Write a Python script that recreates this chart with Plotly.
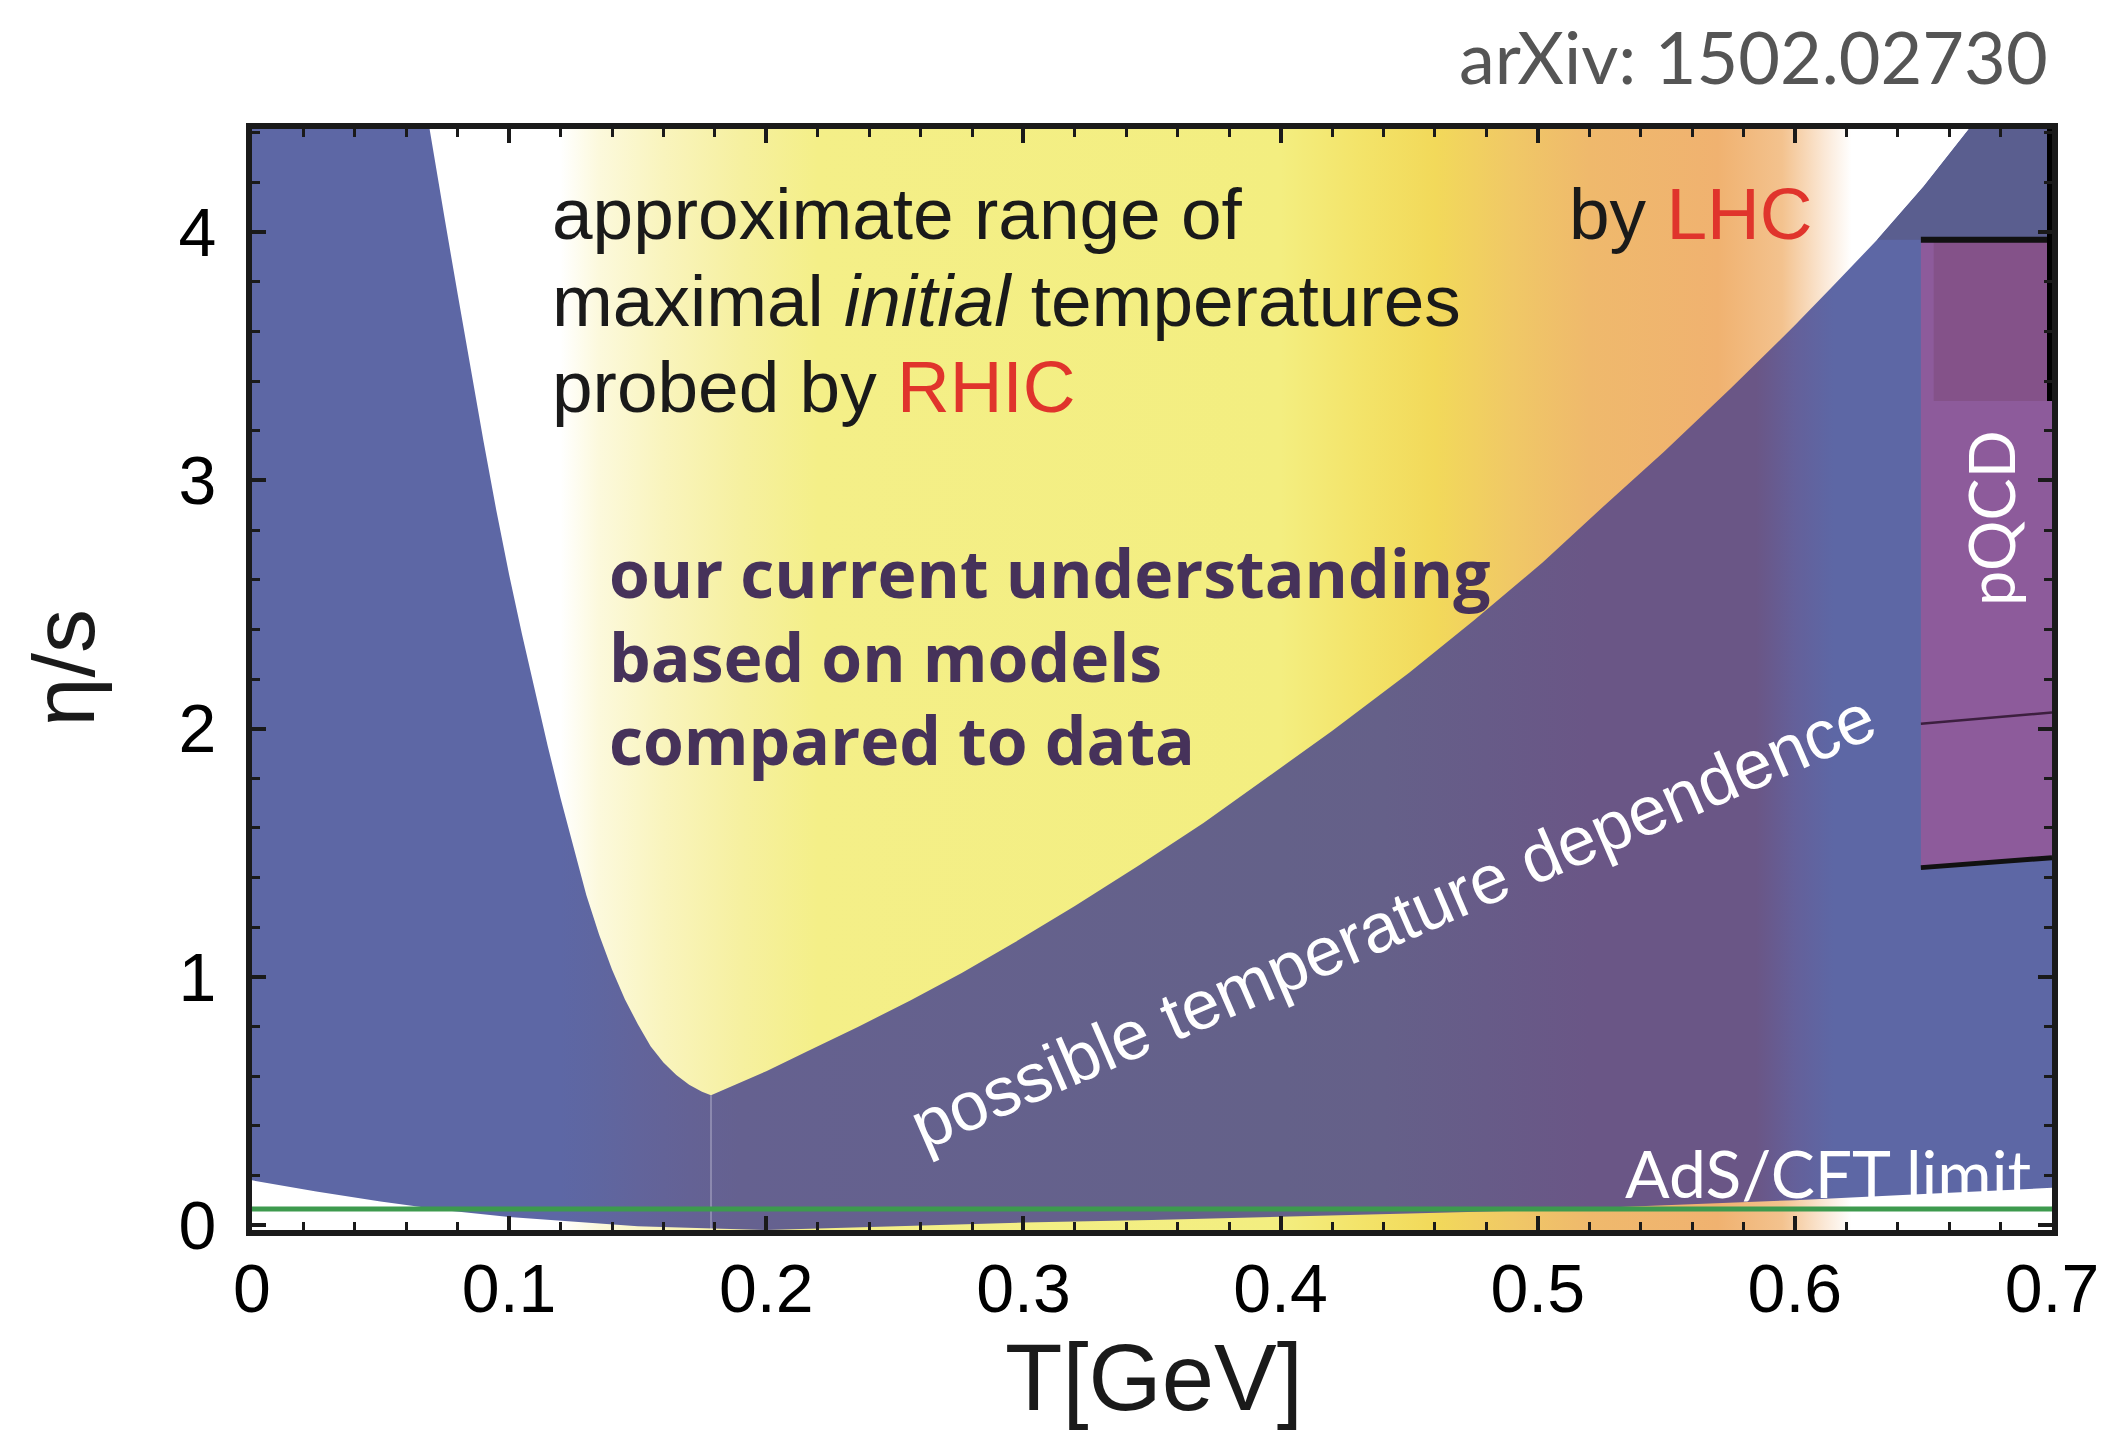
import plotly.graph_objects as go

# ---------------- data ----------------
# V-shaped boundary (upper edge of the blue band), left and right branches
T_v_left = [0.069, 0.075, 0.080, 0.085, 0.090, 0.095, 0.100, 0.105, 0.110, 0.115, 0.120,
            0.125, 0.130, 0.135, 0.140, 0.145, 0.150, 0.155, 0.160, 0.165, 0.170, 0.175, 0.1785]
eta_v_left = [4.42, 4.05, 3.75, 3.45, 3.16, 2.88, 2.62, 2.38, 2.15, 1.93, 1.72,
              1.52, 1.33, 1.17, 1.03, 0.91, 0.81, 0.72, 0.655, 0.605, 0.565, 0.537, 0.523]
T_v_right = [0.1785, 0.200, 0.216, 0.236, 0.256, 0.276, 0.296, 0.320, 0.345, 0.370, 0.393,
             0.420, 0.450, 0.475, 0.502, 0.525, 0.549, 0.575, 0.600, 0.615, 0.632, 0.650, 0.668]
eta_v_right = [0.523, 0.62, 0.70, 0.80, 0.905, 1.015, 1.135, 1.285, 1.45, 1.62, 1.79,
               1.99, 2.225, 2.435, 2.67, 2.89, 3.115, 3.37, 3.625, 3.785, 3.97, 4.183, 4.42]

# lower edge of the blue band
T_low = [0.0, 0.025, 0.05, 0.075, 0.10, 0.125, 0.15, 0.20, 0.25, 0.30, 0.35, 0.40,
         0.45, 0.50, 0.55, 0.60, 0.65, 0.70]
eta_low = [0.18, 0.135, 0.095, 0.06, 0.032, 0.012, -0.005, -0.02, -0.005, 0.01, 0.02,
           0.032, 0.046, 0.06, 0.08, 0.10, 0.125, 0.15]

# AdS/CFT limit
ads_cft = 0.065

# pQCD band
T_pqcd = [0.649, 0.70]
eta_pqcd_low = [1.44, 1.48]
eta_pqcd_mid = [2.02, 2.065]
eta_pqcd_top = [3.97, 3.97]
T_pqcd_dark = [0.654, 0.70]
eta_pqcd_dark = [3.32, 3.97]

# temperature-range gradient (T position, colour)
T_range_stops = [0.0, 0.120, 0.135, 0.160, 0.190, 0.220, 0.400, 0.430, 0.460, 0.490,
                 0.520, 0.570, 0.595, 0.612, 0.622, 0.70]
range_colors = ['#ffffff', '#ffffff', '#fcf9dc', '#f9f4bd', '#f6f0a0', '#f4ef88',
                '#f3ee80', '#f3e46a', '#f2d95a', '#f0c866', '#efb96c', '#f0b270',
                '#f3c28e', '#fbe9d8', '#ffffff', '#ffffff']

# colour of the blue band along T
T_band_stops = [0.0, 0.120, 0.135, 0.150, 0.170, 0.190, 0.400, 0.440, 0.480, 0.520,
                0.585, 0.600, 0.615, 0.70]
band_colors = ['#5d67a5', '#5d67a5', '#5f66a0', '#62649b', '#646295', '#656190',
               '#646189', '#656089', '#675b88', '#6a5686', '#6a5686', '#64609a',
               '#5d67a5', '#5d67a5']

x_ticks = [0, 0.1, 0.2, 0.3, 0.4, 0.5, 0.6, 0.7]
x_tick_text = ['0', '0.1', '0.2', '0.3', '0.4', '0.5', '0.6', '0.7']
y_ticks = [0, 1, 2, 3, 4]
y_tick_text = ['0', '1', '2', '3', '4']

X_RANGE = [0.0, 0.7]
Y_RANGE = [-0.02, 4.416]
Y_TOP = 4.42
Y_BOT = -0.05

# ---------------- figure ----------------
fig = go.Figure()
tmin, tmax = X_RANGE

def scale(stops, colors):
    return [[(t - tmin) / (tmax - tmin), c] for t, c in zip(stops, colors)]

# gradient background band
fig.add_trace(go.Scatter(
    x=[tmin, tmax, tmax, tmin, tmin], y=[Y_BOT, Y_BOT, Y_TOP, Y_TOP, Y_BOT],
    mode='lines', line=dict(width=0), fill='toself',
    fillgradient=dict(type='horizontal', colorscale=scale(T_range_stops, range_colors),
                      start=tmin, stop=tmax),
    hoverinfo='skip', showlegend=False))

# blue band: lower edge, right frame, V right branch (down), V left branch (up), left frame
poly_x = list(T_low) + [tmax, tmax] + T_v_right[::-1] + T_v_left[::-1] + [tmin, tmin]
poly_y = list(eta_low) + [eta_low[-1], Y_TOP] + eta_v_right[::-1] + eta_v_left[::-1] + [Y_TOP, eta_low[0]]
fig.add_trace(go.Scatter(
    x=poly_x, y=poly_y, mode='lines', line=dict(width=0), fill='toself',
    fillgradient=dict(type='horizontal', colorscale=scale(T_band_stops, band_colors),
                      start=tmin, stop=tmax),
    hoverinfo='skip', showlegend=False))

# darker top-right piece above the pQCD band
tr_x = [t for t, e in zip(T_v_right, eta_v_right) if e >= eta_pqcd_top[0]]
tr_y = [e for e in eta_v_right if e >= eta_pqcd_top[0]]
fig.add_trace(go.Scatter(
    x=tr_x + [tmax, tmax, tr_x[0]], y=tr_y + [Y_TOP, eta_pqcd_top[0], tr_y[0]],
    mode='lines', line=dict(width=0), fill='toself', fillcolor='#5a5e8f',
    hoverinfo='skip', showlegend=False))

# faint vertical line below the minimum
fig.add_trace(go.Scatter(
    x=[T_v_right[0], T_v_right[0]], y=[Y_BOT, eta_v_right[0]], mode='lines',
    line=dict(color='rgba(255,255,255,0.35)', width=1.5), hoverinfo='skip', showlegend=False))

# pQCD band
fig.add_trace(go.Scatter(
    x=[T_pqcd[0], T_pqcd[1], T_pqcd[1], T_pqcd[0], T_pqcd[0]],
    y=[eta_pqcd_low[0], eta_pqcd_low[1], eta_pqcd_top[1], eta_pqcd_top[0], eta_pqcd_low[0]],
    mode='lines', line=dict(width=0), fill='toself', fillcolor='#8d5b9b',
    hoverinfo='skip', showlegend=False))
fig.add_trace(go.Scatter(
    x=[T_pqcd_dark[0], T_pqcd_dark[1], T_pqcd_dark[1], T_pqcd_dark[0], T_pqcd_dark[0]],
    y=[eta_pqcd_dark[0], eta_pqcd_dark[0], eta_pqcd_dark[1], eta_pqcd_dark[1], eta_pqcd_dark[0]],
    mode='lines', line=dict(width=0), fill='toself', fillcolor='#845289',
    hoverinfo='skip', showlegend=False))
fig.add_trace(go.Scatter(x=T_pqcd, y=eta_pqcd_mid, mode='lines',
                         line=dict(color='#3c1f3f', width=2.5), hoverinfo='skip', showlegend=False))
fig.add_trace(go.Scatter(x=T_pqcd, y=eta_pqcd_low, mode='lines',
                         line=dict(color='#111111', width=5), hoverinfo='skip', showlegend=False))
fig.add_trace(go.Scatter(x=T_pqcd, y=eta_pqcd_top, mode='lines',
                         line=dict(color='#111111', width=6), hoverinfo='skip', showlegend=False))
fig.add_trace(go.Scatter(x=[tmax, tmax], y=[eta_pqcd_dark[0], Y_TOP], mode='lines',
                         line=dict(color='#000000', width=10), hoverinfo='skip', showlegend=False))

# AdS/CFT limit line
fig.add_trace(go.Scatter(x=[tmin, tmax], y=[ads_cft, ads_cft], mode='lines',
                         line=dict(color='#3d9a4e', width=5), hoverinfo='skip', showlegend=False))

# ---------------- text ----------------
BLACK = '#1a1a1a'
RED = '#e0342c'
sans = 'Liberation Sans'
ann = []
ann.append(dict(x=0.116, y=4.076, xref='x', yref='y', xanchor='left', yanchor='middle',
                text='approximate range of', showarrow=False,
                font=dict(family=sans, size=73, color=BLACK)))
ann.append(dict(x=0.116, y=3.727, xref='x', yref='y', xanchor='left', yanchor='middle',
                text='maximal <i>initial</i> temperatures', showarrow=False,
                font=dict(family=sans, size=73, color=BLACK)))
ann.append(dict(x=0.116, y=3.378, xref='x', yref='y', xanchor='left', yanchor='middle',
                text=f'probed by <span style="color:{RED}">RHIC</span>', showarrow=False,
                font=dict(family=sans, size=73, color=BLACK)))
ann.append(dict(x=0.5115, y=4.076, xref='x', yref='y', xanchor='left', yanchor='middle',
                text=f'by <span style="color:{RED}">LHC</span>', showarrow=False,
                font=dict(family=sans, size=73, color=BLACK)))
for txt, yy in [('our current understanding', 2.632), ('based on models', 2.292),
                ('compared to data', 1.957)]:
    ann.append(dict(x=0.138, y=yy, xref='x', yref='y', xanchor='left', yanchor='middle',
                    text=txt, showarrow=False,
                    font=dict(family='Open Sans', size=66, color='#46325a', weight=700)))
ann.append(dict(x=0.4435, y=1.225, xref='x', yref='y', xanchor='center', yanchor='middle',
                text='possible temperature dependence', showarrow=False, textangle=-23.5,
                font=dict(family=sans, size=69, color='white')))
ann.append(dict(x=0.613, y=0.21, xref='x', yref='y', xanchor='center', yanchor='middle',
                text='AdS/CFT limit', showarrow=False,
                font=dict(family='Lato', size=66, color='white')))
ann.append(dict(x=0.676, y=2.85, xref='x', yref='y', xanchor='center', yanchor='middle',
                text='pQCD', showarrow=False, textangle=-90,
                font=dict(family='Lato', size=63, color='white')))
ann.append(dict(x=0.9989, y=1.066, xref='paper', yref='paper', xanchor='right', yanchor='middle',
                text='arXiv: 1502.02730', showarrow=False,
                font=dict(family='Lato', size=72, color='#555555')))
ann.append(dict(x=0.501, y=-0.134, xref='paper', yref='paper', xanchor='center', yanchor='middle',
                text='T[GeV]', showarrow=False,
                font=dict(family=sans, size=94, color=BLACK)))
ann.append(dict(x=-0.105, y=0.51, xref='paper', yref='paper', xanchor='center', yanchor='middle',
                text='η/s', showarrow=False, textangle=-90,
                font=dict(family=sans, size=88, color=BLACK)))

axis_common = dict(showline=True, linewidth=6, linecolor=BLACK, mirror='allticks',
                   ticks='inside', ticklen=14, tickwidth=3.5, tickcolor=BLACK,
                   showgrid=False, zeroline=False, automargin=False,
                   tickfont=dict(family=sans, size=68, color='black'))

# the page adds an 8 px body margin; margins below compensate for it
fig.update_layout(
    width=2106, height=1432,
    margin=dict(l=244, r=62, t=121, b=210),
    paper_bgcolor='white', plot_bgcolor='white',
    showlegend=False,
    annotations=ann,
    xaxis=dict(range=X_RANGE, tickvals=x_ticks, ticktext=x_tick_text,
               ticklabelstandoff=-6,
               minor=dict(dtick=0.02, ticks='inside', ticklen=8, tickwidth=3, tickcolor=BLACK,
                          showgrid=False),
               **axis_common),
    yaxis=dict(range=Y_RANGE, tickvals=y_ticks, ticktext=y_tick_text,
               ticklabelstandoff=16,
               minor=dict(dtick=0.2, ticks='inside', ticklen=8, tickwidth=3, tickcolor=BLACK,
                          showgrid=False),
               **axis_common),
)

fig.write_html('out.html')
